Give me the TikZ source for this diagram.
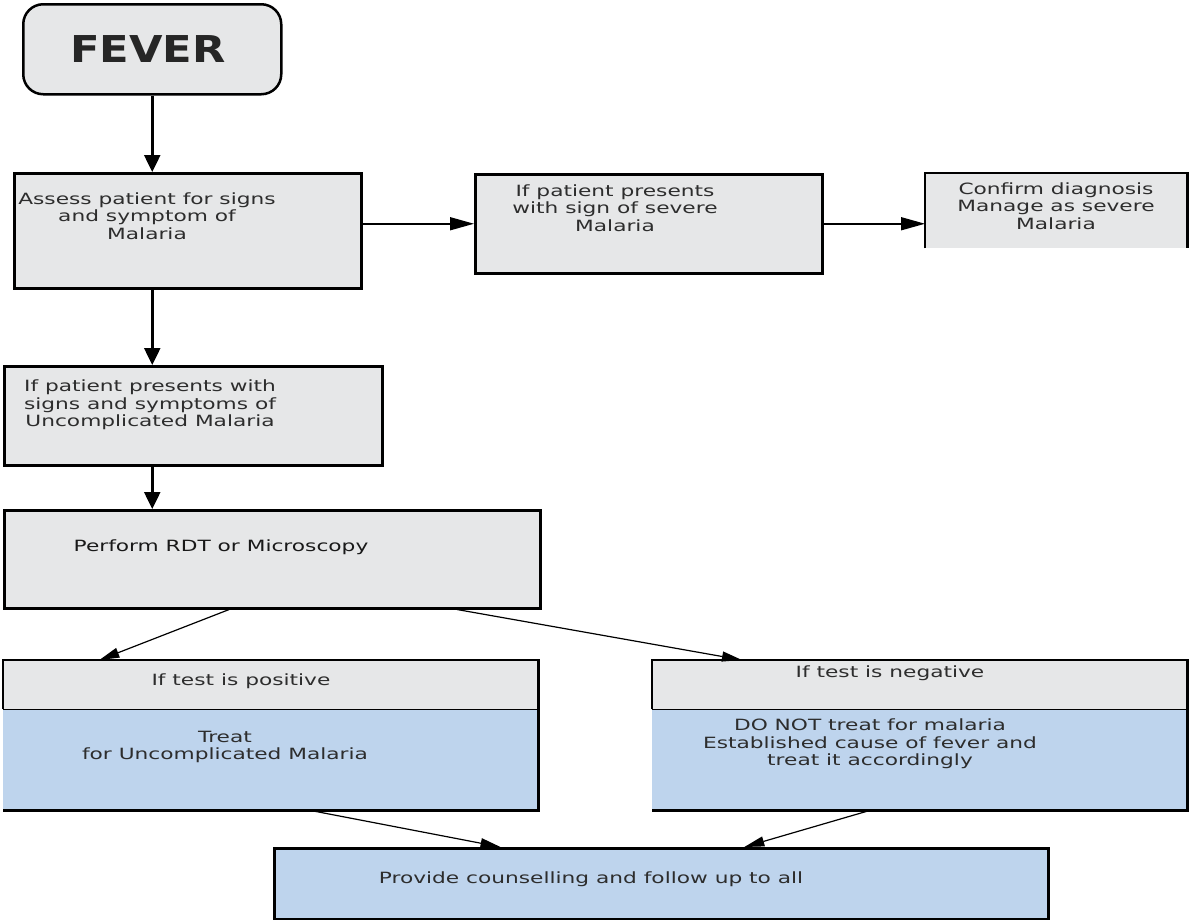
\documentclass[tikz,border=0pt]{standalone}
\usepackage{fontspec}
\setmainfont{DejaVu Sans}[FakeStretch=1.4]
\newfontfamily\feverfont{DejaVu Sans}[FakeStretch=1.17]
\usetikzlibrary{arrows.meta,calc}
\definecolor{boxgray}{RGB}{230,231,232}
\definecolor{boxblue}{RGB}{190,212,237}
\definecolor{txtgray}{RGB}{45,45,45}
\tikzset{
    graybox/.style={rectangle,draw,line width=2.5pt,fill=boxgray,anchor=north west,inner sep=0pt},
    bluebox/.style={rectangle,draw,line width=2.5pt,fill=boxblue,anchor=north west,inner sep=0pt},
    grayfill/.style={rectangle,fill=boxgray,anchor=north west,inner sep=0pt},
    bluefill/.style={rectangle,fill=boxblue,anchor=north west,inner sep=0pt},
    boxtext/.style={align=center,text=txtgray,inner sep=0pt,font=\fontsize{15.5}{17.5}\selectfont},
    rim/.style={line width=2.5pt},
    vdir/.style={line width=2.5pt,arrows={-Triangle[length=17pt,width=16pt]}},
    hdir/.style={line width=1.6pt,arrows={-Triangle[length=24pt,width=13pt]}},
    ddir/.style={line width=1.2pt,arrows={-Triangle[length=20pt,width=10pt]}},
    }
\begin{document}
\begin{tikzpicture}[x=1pt,y=-1pt]
    \useasboundingbox (0,0) rectangle (1189,919);

		\node[graybox,rounded corners=20pt,minimum width=258pt,minimum height=90pt] (fever) at (22,3) {};
		\node[graybox,minimum width=347pt,minimum height=115pt] (assess) at (13,172) {};
		\node[graybox,minimum width=347pt,minimum height=99pt] (severe) at (474,173) {};
		\node[grayfill,minimum width=262pt,minimum height=75pt] (confirm) at (925,173) {};
		\node[graybox,minimum width=378pt,minimum height=99pt] (uncomp) at (3,365) {};
		\node[graybox,minimum width=536pt,minimum height=98pt] (perform) at (3,509) {};
		\node[grayfill,minimum width=535pt,minimum height=49pt] (pos) at (3,660) {};
		\node[bluefill,minimum width=535pt,minimum height=101pt] (treat) at (3,709) {};
		\node[grayfill,minimum width=535pt,minimum height=49pt] (neg) at (652,660) {};
		\node[bluefill,minimum width=535pt,minimum height=101pt] (notreat) at (652,709) {};
		\node[bluebox,minimum width=774pt,minimum height=71pt] (counsel) at (273,847) {};

	\draw[rim] (confirm.south west) -- (confirm.north west) -- (confirm.north east) -- (confirm.south east);
	\draw[rim] (pos.south west) -- (pos.north west) -- (pos.north east) -- (treat.south east) -- (treat.south west);
	\draw[rim,line width=1.8pt] (pos.south west) -- (pos.south east);
	\draw[rim] (neg.south west) -- (neg.north west) -- (neg.north east) -- (notreat.south east) -- (notreat.south west);
	\draw[rim,line width=1.8pt] (neg.south west) -- (neg.south east);

		\node[font=\feverfont\bfseries\fontsize{37}{40}\selectfont,text=black!85] (fever-txt) at (148,49) {FEVER};
		\node[boxtext] (assess-txt) at (147,216) {Assess patient for signs\\and symptom of\\Malaria};
		\node[boxtext] (severe-txt) at (615,208) {If patient presents\\with sign of severe\\Malaria};
		\node[boxtext] (confirm-txt) at (1056,206) {Confirm diagnosis\\Manage as severe\\Malaria};
		\node[boxtext] (uncomp-txt) at (150,405) {If patient presents with\\signs and symptoms of\\Uncomplicated Malaria};
		\node[boxtext,text=black!90] (perform-txt) at (221,547) {Perform RDT or Microscopy};
		\node[boxtext] (pos-txt) at (241,681) {If test is positive};
		\node[boxtext] (treat-txt) at (225,747) {Treat\\for Uncomplicated Malaria};
		\node[boxtext] (neg-txt) at (890,673) {If test is negative};
		\node[boxtext] (notreat-txt) at (870,744) {DO NOT treat for malaria\\Established cause of fever and\\treat it accordingly};
		\node[boxtext] (counsel-txt) at (591,879) {Provide counselling and follow up to all};

	\draw[vdir] (fever.south) -- (fever.south |- assess.north);
	\draw[vdir] (fever.south |- assess.south) -- (fever.south |- uncomp.north);
	\draw[vdir] (fever.south |- uncomp.south) -- (fever.south |- perform.north);
	\draw[hdir] (assess.east |- severe.west) -- (severe.west);
	\draw[hdir] (severe.east) -- (severe.east -| confirm.west);
	\draw[ddir] ($(perform.south west)!0.42!(perform.south east)$) -- ($(pos.north west)!0.18!(pos.north east)$);
	\draw[ddir] ($(perform.south west)!0.843!(perform.south east)$) -- ($(neg.north west)!0.168!(neg.north east)$);
	\draw[ddir] ($(treat.south west)!0.574!(treat.south east)$) -- ($(counsel.north west)!0.293!(counsel.north east)$);
	\draw[ddir] ($(notreat.south west)!0.407!(notreat.south east)$) -- ($(counsel.north west)!0.607!(counsel.north east)$);
\end{tikzpicture}
\end{document}
